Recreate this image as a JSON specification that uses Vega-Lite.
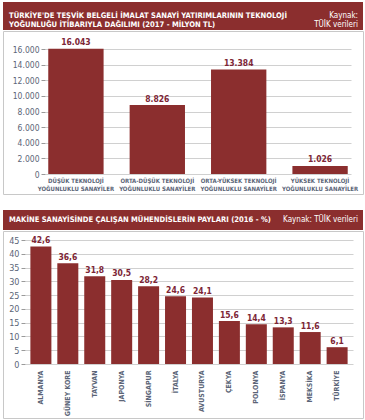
{
  "$schema": "https://vega.github.io/schema/vega-lite/v6.json",
  "padding": {"left": 2, "top": 2, "right": 0, "bottom": 0},
  "background": "white",
  "spacing": 15,
  "config": {
    "locale": {"number": {"decimal": ",", "thousands": ".", "grouping": [3], "currency": ["", " TL"]}},
    "view": {"stroke": null},
    "font": "Liberation Sans Narrow, DejaVu Sans Condensed, sans-serif",
    "axis": {
      "labelColor": "#5b6577",
      "labelFont": "Liberation Sans Narrow, DejaVu Sans Condensed, sans-serif",
      "gridColor": "#d0d0d0",
      "gridWidth": 1,
      "tickColor": "#9a9a9a",
      "domain": false
    }
  },
  "datasets": {
    "h1": [{"title": ["TÜRKİYE'DE TEŞVİK BELGELİ İMALAT SANAYİ YATIRIMLARININ TEKNOLOJİ", "YOĞUNLUĞU İTİBARIYLA DAĞILIMI (2017 - MİLYON TL)"], "source": ["Kaynak:", "TÜİK verileri"]}],
    "c1": [
      {"category": "DÜŞÜK TEKNOLOJİ\nYOĞUNLUKLU SANAYİLER", "value": 16043},
      {"category": "ORTA-DÜŞÜK TEKNOLOJİ\nYOĞUNLUKLU SANAYİLER", "value": 8826},
      {"category": "ORTA-YÜKSEK TEKNOLOJİ\nYOĞUNLUKLU SANAYİLER", "value": 13384},
      {"category": "YÜKSEK TEKNOLOJİ\nYOĞUNLUKLU SANAYİLER", "value": 1026}
    ],
    "h2": [{"title": "MAKİNE SANAYİSİNDE ÇALIŞAN MÜHENDİSLERİN PAYLARI (2016 - %)", "source": "Kaynak: TÜİK verileri"}],
    "c2": [
      {"country": "ALMANYA", "share": 42.6},
      {"country": "GÜNEY KORE", "share": 36.6},
      {"country": "TAYVAN", "share": 31.8},
      {"country": "JAPONYA", "share": 30.5},
      {"country": "SİNGAPUR", "share": 28.2},
      {"country": "İTALYA", "share": 24.6},
      {"country": "AVUSTURYA", "share": 24.1},
      {"country": "ÇEKYA", "share": 15.6},
      {"country": "POLONYA", "share": 14.4},
      {"country": "İSPANYA", "share": 13.3},
      {"country": "MEKSİKA", "share": 11.6},
      {"country": "TÜRKİYE", "share": 6.1}
    ]
  },
  "vconcat": [
    {
      "spacing": 0,
      "vconcat": [
        {
          "data": {"name": "h1"},
          "width": 360,
          "height": 28,
          "view": {"fill": "#8B2E2E", "stroke": null},
          "layer": [
            {
              "mark": {"type": "text", "align": "left", "baseline": "middle", "dx": 6, "fontWeight": "bold", "fontSize": 7.6, "lineHeight": 8.5, "color": "white"},
              "encoding": {"x": {"value": 0}, "text": {"field": "title", "type": "nominal"}}
            },
            {
              "mark": {"type": "text", "align": "right", "baseline": "middle", "dx": -5, "fontSize": 8, "lineHeight": 8.5, "color": "white"},
              "encoding": {"x": {"value": "width"}, "text": {"field": "source", "type": "nominal"}}
            }
          ]
        },
        {
          "data": {"name": "c1"},
          "width": 360,
          "height": 163,
          "view": {"stroke": "#c8c8c8", "strokeWidth": 1},
          "encoding": {
            "x": {
              "field": "category", "type": "nominal", "sort": null,
              "scale": {"range": [42, 348], "paddingInner": 0.32, "paddingOuter": 0.04},
              "axis": {"title": null, "offset": -20, "labelAngle": 0, "labelExpr": "split(datum.label, '\\n')", "ticks": false, "labelPadding": 3, "labelFontSize": 6, "labelLineHeight": 8, "labelFontWeight": "bold", "labelBaseline": "top"}
            },
            "y": {
              "field": "value", "type": "quantitative",
              "scale": {"domain": [0, 16000], "nice": false, "range": [143, 18]},
              "axis": {"title": null, "offset": -42, "values": [0, 2000, 4000, 6000, 8000, 10000, 12000, 14000, 16000], "format": ",d", "tickSize": 4, "labelPadding": 2, "labelFontSize": 8.5}
            }
          },
          "layer": [
            {"mark": {"type": "bar", "color": "#8B2E2E", "clip": false}},
            {
              "mark": {"type": "text", "baseline": "bottom", "dy": -1.5, "fontSize": 8.5, "fontWeight": "bold", "color": "#7d2636"},
              "encoding": {"text": {"field": "value", "type": "quantitative", "format": ",d"}}
            }
          ]
        }
      ]
    },
    {
      "spacing": 0,
      "vconcat": [
        {
          "data": {"name": "h2"},
          "width": 360,
          "height": 20,
          "view": {"fill": "#8B2E2E", "stroke": null},
          "layer": [
            {
              "mark": {"type": "text", "align": "left", "baseline": "middle", "dx": 6, "fontWeight": "bold", "fontSize": 7.6, "color": "white"},
              "encoding": {"x": {"value": 0}, "text": {"field": "title", "type": "nominal"}}
            },
            {
              "mark": {"type": "text", "align": "right", "baseline": "middle", "dx": -5, "fontSize": 8, "color": "white"},
              "encoding": {"x": {"value": "width"}, "text": {"field": "source", "type": "nominal"}}
            }
          ]
        },
        {
          "data": {"name": "c2"},
          "width": 360,
          "height": 187,
          "view": {"stroke": "#c8c8c8", "strokeWidth": 1},
          "encoding": {
            "x": {
              "field": "country", "type": "nominal", "sort": null,
              "scale": {"range": [22, 350], "paddingInner": 0.22, "paddingOuter": 0.2},
              "axis": {"title": null, "offset": -54, "labelAngle": -90, "ticks": false, "labelPadding": 6, "labelFontSize": 7, "labelFontWeight": "bold"}
            },
            "y": {
              "field": "share", "type": "quantitative",
              "scale": {"domain": [0, 45], "nice": false, "range": [133, 9]},
              "axis": {"title": null, "offset": -22, "values": [0, 5, 10, 15, 20, 25, 30, 35, 40, 45], "tickSize": 4, "labelPadding": 2, "labelFontSize": 9}
            }
          },
          "layer": [
            {"mark": {"type": "bar", "color": "#8B2E2E"}},
            {
              "mark": {"type": "text", "baseline": "bottom", "dy": -1.5, "fontSize": 8.5, "fontWeight": "bold", "color": "#7d2636"},
              "encoding": {"text": {"field": "share", "type": "quantitative", "format": ".1f"}}
            }
          ]
        }
      ]
    }
  ]
}
